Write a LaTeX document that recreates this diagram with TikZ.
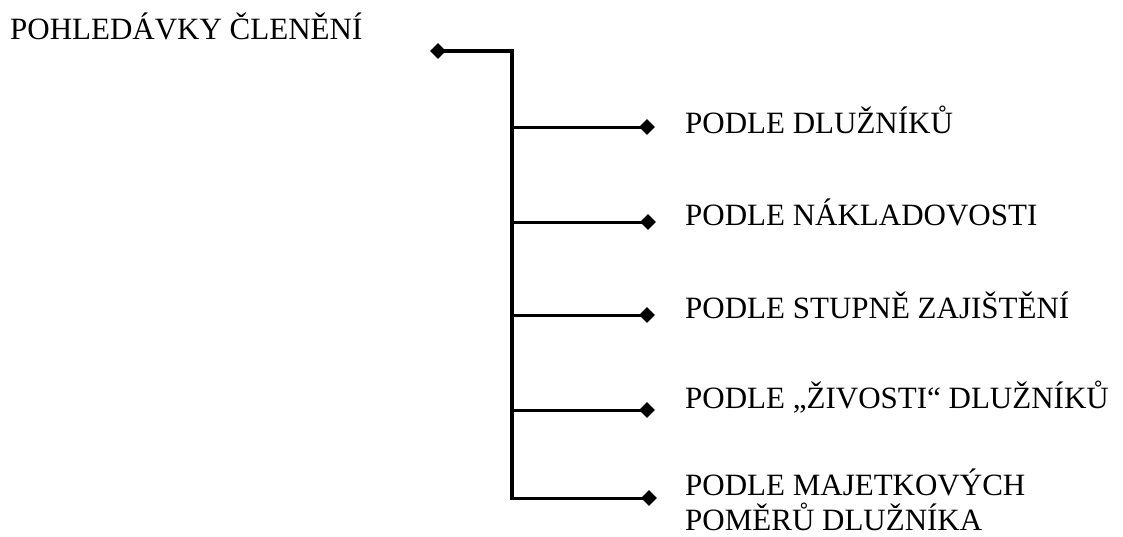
\documentclass[tikz,border=0pt]{standalone}
\usepackage{fontspec}
\setmainfont{Liberation Serif}
\usetikzlibrary{shapes.geometric}

\begin{document}
\begin{tikzpicture}[x=1pt, y=-1pt,
    hrot/.style={diamond, fill=black, inner sep=0pt, minimum width=16pt, minimum height=16pt},
    popis/.style={anchor=base west, inner sep=0pt, align=left,
        font=\fontsize{31}{35}\selectfont}]
    \useasboundingbox (0,0) rectangle (1123,536);

    % Title
    \node[popis] (nadpis) at (10,39) {POHLEDÁVKY ČLENĚNÍ};

    % Trunk
    \node[hrot] (d0) at (438,51) {};
    \coordinate (roh) at (512,51);
    \coordinate (j1) at (512,127);
    \coordinate (j2) at (512,222);
    \coordinate (j3) at (512,315);
    \coordinate (j4) at (512,410);
    \coordinate (j5) at (512,498);
    \draw[line width=3.5pt, line join=miter] (d0.center) -- (roh) -- ([yshift=1.5pt]j5);

    % Branches
    \node[hrot] (d1) at (647,127) {};
    \node[hrot] (d2) at (648,222) {};
    \node[hrot] (d3) at (647,315) {};
    \node[hrot] (d4) at (647,410) {};
    \node[hrot] (d5) at (649,498) {};
    \draw[line width=3pt] (j1) -- (d1.center);
    \draw[line width=3pt] (j2) -- (d2.center);
    \draw[line width=3pt] (j3) -- (d3.center);
    \draw[line width=3pt] (j4) -- (d4.center);
    \draw[line width=3pt] ([xshift=-1.75pt]j5) -- (d5.center);

    % Labels
    \node[popis] (p1) at (685,133) {PODLE DLUŽNÍKŮ};
    \node[popis] (p2) at (685,225) {PODLE NÁKLADOVOSTI};
    \node[popis] (p3) at (685,318) {PODLE STUPNĚ ZAJIŠTĚNÍ};
    \node[popis] (p4) at (685,408) {PODLE „ŽIVOSTI“ DLUŽNÍKŮ};
    \node[popis] (p5) at (685,530) {PODLE MAJETKOVÝCH\\POMĚRŮ DLUŽNÍKA};
\end{tikzpicture}
\end{document}
